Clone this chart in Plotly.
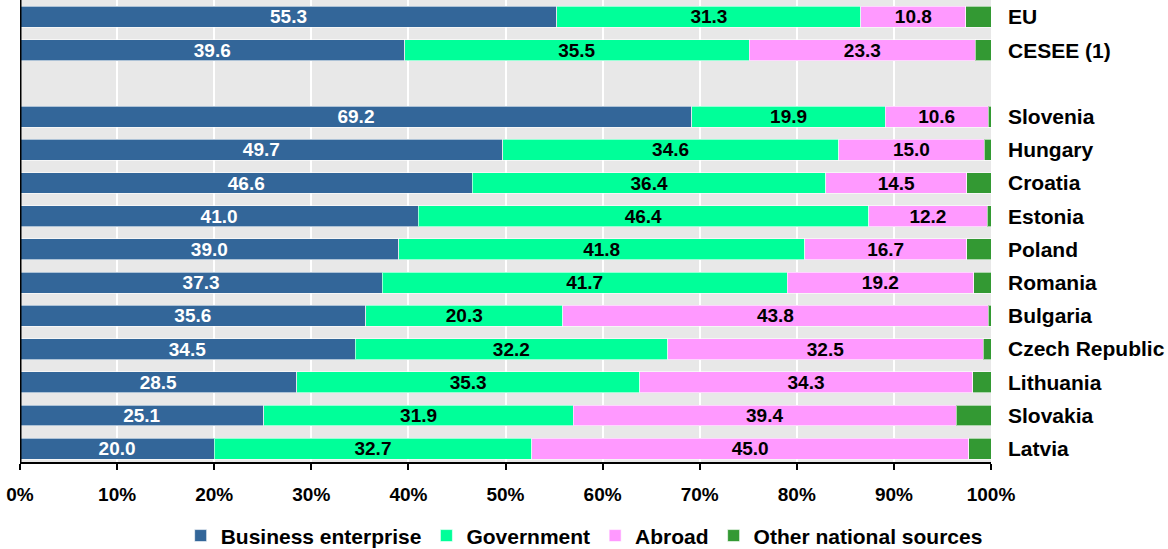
import plotly.graph_objects as go

categories = ["EU", "CESEE (1)", "", "Slovenia", "Hungary", "Croatia", "Estonia", "Poland",
              "Romania", "Bulgaria", "Czech Republic", "Lithuania", "Slovakia", "Latvia"]
business = [55.3, 39.6, None, 69.2, 49.7, 46.6, 41.0, 39.0, 37.3, 35.6, 34.5, 28.5, 25.1, 20.0]
government = [31.3, 35.5, None, 19.9, 34.6, 36.4, 46.4, 41.8, 41.7, 20.3, 32.2, 35.3, 31.9, 32.7]
abroad = [10.8, 23.3, None, 10.6, 15.0, 14.5, 12.2, 16.7, 19.2, 43.8, 32.5, 34.3, 39.4, 45.0]
other = [2.6, 1.6, None, 0.3, 0.7, 2.5, 0.4, 2.5, 1.8, 0.3, 0.8, 1.9, 3.6, 2.3]
x_ticks = [0, 10, 20, 30, 40, 50, 60, 70, 80, 90, 100]

ypos = list(range(len(categories)))

series = [
    ("Business enterprise", business, "#336699", "white", True),
    ("Government", government, "#00FF99", "black", True),
    ("Abroad", abroad, "#FF99FF", "black", True),
    ("Other national sources", other, "#339933", "black", False),
]

fig = go.Figure()
label_font = "Liberation Sans Narrow, Arial Narrow, Liberation Sans, Arial, sans-serif"
main_font = "Liberation Sans, Arial, sans-serif"
for name, vals, color, tcolor, show in series:
    txt = [("" if v is None else f"{v:.1f}") if show else "" for v in vals]
    fig.add_trace(go.Bar(
        name=name, y=ypos, x=vals, orientation="h",
        marker=dict(color=color, line=dict(color="rgba(255,255,255,0.6)", width=1)),
        width=0.63,
        text=txt, textposition="inside", insidetextanchor="middle", textangle=0,
        constraintext="none",
        textfont=dict(family=label_font, size=19, color=tcolor, weight="bold"),
        hoverinfo="skip",
    ))

fig.update_layout(
    barmode="stack",
    width=1168, height=549,
    margin=dict(l=20, r=177, t=0, b=87, autoexpand=False),
    plot_bgcolor="#E8E8E8",
    paper_bgcolor="white",
    font=dict(family=main_font, color="black"),
    legend=dict(
        orientation="h", x=0.581, xanchor="center", y=-0.16, yanchor="middle",
        font=dict(size=21, weight="bold", family=main_font),
        traceorder="normal", itemwidth=30,
    ),
    xaxis=dict(
        range=[0, 100], tickvals=x_ticks, ticktext=[f"{t}%" for t in x_ticks],
        showgrid=True, gridcolor="white", gridwidth=2,
        showline=True, linecolor="black", linewidth=2,
        ticks="outside", ticklen=6, tickwidth=2, tickcolor="black",
        ticklabelstandoff=8,
        tickfont=dict(size=19, weight="bold"), zeroline=False, fixedrange=True,
    ),
    yaxis=dict(
        side="right", tickvals=ypos, ticktext=categories, range=[13.4, -0.51],
        showgrid=False, zeroline=False, showline=False, ticks="",
        ticklabelstandoff=16,
        tickfont=dict(size=21, weight="bold"),
    ),
    shapes=[dict(type="line", xref="x", yref="paper", x0=0, x1=0, y0=0, y1=1,
                 line=dict(color="black", width=3))],
)

fig.write_html("out.html", config={"displayModeBar": False},
               post_script="document.body.style.margin='0';")
